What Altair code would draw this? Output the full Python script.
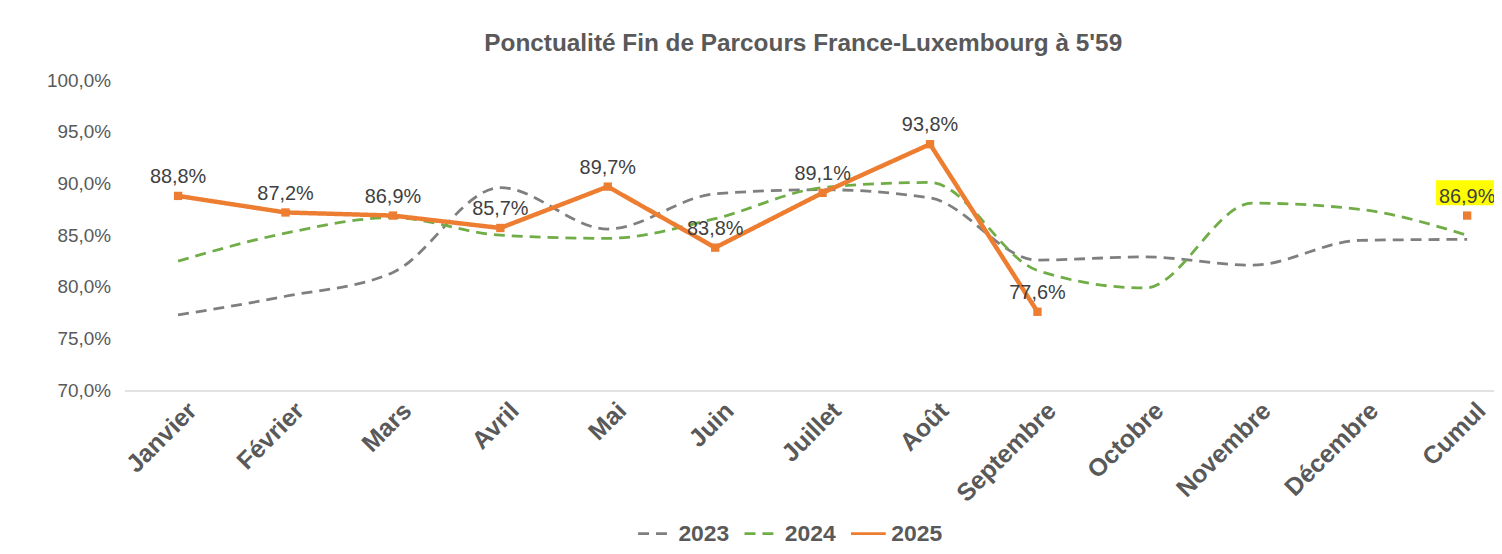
import json
import altair as alt
import pandas as pd

months = ["Janvier", "Février", "Mars", "Avril", "Mai", "Juin", "Juillet", "Août",
          "Septembre", "Octobre", "Novembre", "Décembre", "Cumul"]
years = ["2023", "2024", "2025"]
v2023 = [77.3, 79.1, 81.4, 89.6, 85.6, 89.0, 89.4, 88.6, 82.6, 82.9, 82.1, 84.5, 84.6]
v2024 = [82.5, 85.2, 86.7, 85.0, 84.7, 86.6, 89.6, 90.1, 81.6, 79.9, 88.1, 87.5, 85.0]
v2025 = [88.8, 87.2, 86.9, 85.7, 89.7, 83.8, 89.1, 93.8, 77.6, None, None, None, 86.9]
colors = ["#7f7f7f", "#70ad47", "#ed7d31"]
y_ticks = [70, 75, 80, 85, 90, 95, 100]
title = "Ponctualité Fin de Parcours France-Luxembourg à 5'59"

rows = []
for yr, vals in zip(years, [v2023, v2024, v2025]):
    for i, (m, v) in enumerate(zip(months, vals)):
        if v is not None:
            rows.append({"idx": i, "month": m, "year": yr, "value": v})
df = pd.DataFrame(rows)

FONT = "Liberation Sans"
TXT = "#595959"

x_enc = alt.X(
    "idx:Q",
    scale=alt.Scale(domain=[-0.5, 12.25], nice=False, zero=False),
    axis=alt.Axis(
        values=list(range(len(months))),
        labelExpr=json.dumps(months) + "[datum.value]",
        title=None, grid=False, ticks=False,
        domain=True, domainColor="#d9d9d9", domainWidth=1.5,
        labelAngle=-45, labelAlign="right", labelBaseline="middle",
        labelFontSize=25, labelFontWeight="bold", labelColor=TXT,
        labelPadding=16, labelOffset=14, labelOverlap=False, labelBound=False, labelFlush=False,
    ),
)
y_enc = alt.Y(
    "value:Q",
    scale=alt.Scale(domain=[70, 100], nice=False, zero=False),
    axis=alt.Axis(
        values=y_ticks,
        labelExpr="replace(format(datum.value, '.1f'), '.', ',') + '%'",
        title=None, grid=False, ticks=False, domain=False,
        labelFontSize=19, labelColor=TXT, labelPadding=14,
    ),
)
legend = alt.Legend(
    title=None, orient="none", legendX=515, legendY=437, direction="horizontal",
    symbolType="stroke", symbolSize=1225, symbolStrokeWidth=3,
    labelFontSize=23, labelFontWeight="bold", labelColor=TXT, labelFont=FONT,
    columnPadding=8, labelOffset=4,
)
color_enc = alt.Color("year:N", scale=alt.Scale(domain=years, range=colors), legend=legend)
dash_enc = alt.StrokeDash(
    "year:N",
    scale=alt.Scale(domain=years, range=[[11, 7], [11, 7], [1, 0]]),
    legend=legend,
)

base = alt.Chart(df)

old_lines = base.transform_filter(
    alt.FieldOneOfPredicate(field="year", oneOf=["2023", "2024"])
).mark_line(interpolate="monotone", strokeWidth=2.8).encode(
    x=x_enc, y=y_enc, color=color_enc, strokeDash=dash_enc, detail="year:N"
)

cur = base.transform_filter(alt.datum.year == "2025")

cur_line = cur.transform_filter(alt.datum.idx < 12).mark_line(strokeWidth=4.5).encode(
    x=x_enc, y=y_enc, color=color_enc, strokeDash=dash_enc
)

cur_pts = cur.mark_point(shape="square", filled=True, size=70, opacity=1, color="#ed7d31").encode(
    x=x_enc, y=y_enc
)

cumul_box = cur.transform_filter(alt.datum.idx == 12).mark_point(
    shape="M-2.5,-1H2.5V1H-2.5Z", filled=True, size=625, opacity=1,
    color="#ffff00", yOffset=-23,
).encode(x=x_enc, y=y_enc)

labels = cur.transform_calculate(
    label="replace(format(datum.value, '.1f'), '.', ',') + '%'"
).mark_text(
    baseline="alphabetic", dy=-13, fontSize=20, color="#404040", font=FONT
).encode(x=x_enc, y=y_enc, text="label:N")

chart = alt.layer(old_lines, cur_line, cur_pts, cumul_box, labels).properties(
    width=1377, height=312,
    padding={"left": 117, "top": 71, "right": 0, "bottom": 155},
    autosize=alt.AutoSizeParams(type="none"),
    title=alt.TitleParams(
        text=title, fontSize=24.5, fontWeight="bold", color=TXT, font=FONT,
        anchor="middle", baseline="alphabetic", offset=-4, dx=-6,
    ),
).configure(font=FONT).configure_view(stroke=None)

chart.save("out.html", embed_options={"renderer": "svg", "actions": False})
